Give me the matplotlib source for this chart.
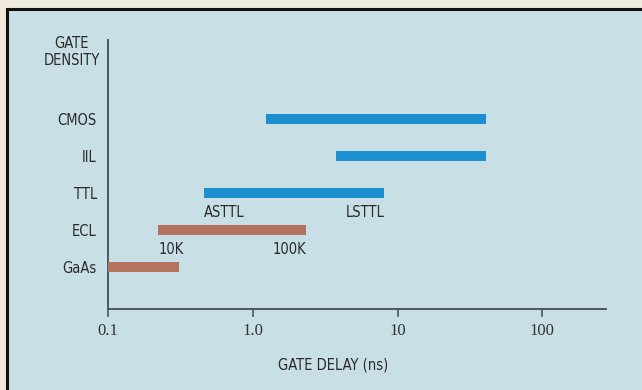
import matplotlib.pyplot as plt
from matplotlib.patches import Rectangle

# data
families = ["GaAs", "ECL", "TTL", "IIL", "CMOS"]
delay_min = [0.10, 0.222, 0.46, 3.74, 1.23]
delay_max = [0.31, 2.32, 8.1, 40.6, 40.6]
bar_kind = ["brown", "brown", "blue", "blue", "blue"]

tick_values = [0.1, 1.0, 10, 100]
tick_labels = ["0.1", "1.0", "10", "100"]

# (family, left label, right label)
end_labels = [("TTL", "ASTTL", "LSTTL"), ("ECL", "10K", "100K")]

BLUE = "#1b8fcf"
BROWN = "#b3735f"
PANEL = "#c8dfe6"
PAPER = "#efe9dc"
INK = "#2b2b2b"
colors = {"blue": BLUE, "brown": BROWN}

W, H = 642, 390
fig = plt.figure(figsize=(W / 100, H / 100), dpi=100, facecolor=PAPER)

# panel with black frame on the left and top
bg = fig.add_axes([0, 0, 1, 1], zorder=-5)
bg.set_axis_off()
bg.add_patch(Rectangle((7 / W, -0.05), 1.1, (H - 9) / H + 0.05,
                       transform=bg.transAxes, facecolor=PANEL,
                       edgecolor="#111111", linewidth=2.2))

narrow = dict(family=["Liberation Sans Narrow", "DejaVu Sans"],
              stretch="condensed")
serif = dict(family=["Liberation Serif", "DejaVu Serif"])

ax = fig.add_axes([108 / W, (H - 309) / H, (606 - 108) / W, (309 - 40) / H],
                  zorder=2)
ax.set_facecolor("none")
ax.set_xscale("log")
ax.set_xlim(0.1, 275)
ax.set_ylim(-0.135, 7.14)

ypos = list(range(1, len(families) + 1))
for y, lo, hi, kind in zip(ypos, delay_min, delay_max, bar_kind):
    ax.barh(y, hi - lo, left=lo, height=0.27, color=colors[kind],
            edgecolor="none", zorder=3)

for fam, left_txt, right_txt in end_labels:
    i = families.index(fam)
    y = ypos[i] - 0.52
    ax.text(delay_min[i], y, left_txt, ha="left", va="center",
            fontsize=10.5, color=INK, **narrow)
    ax.text(delay_max[i], y, right_txt, ha="right", va="center",
            fontsize=10.5, color=INK, **narrow)

ax.set_yticks(ypos)
ax.set_yticklabels(families, fontsize=10.5, color=INK, **narrow)
ax.tick_params(axis="y", length=0, pad=8)

ax.set_xticks(tick_values)
ax.set_xticklabels(tick_labels, fontsize=12, color="#333333", **serif)
ax.minorticks_off()
ax.tick_params(axis="x", direction="out", length=6, width=1.2,
               color="#4a5a5e", pad=4)

for side in ["top", "right"]:
    ax.spines[side].set_visible(False)
for side in ["left", "bottom"]:
    ax.spines[side].set_color("#4a5a5e")
    ax.spines[side].set_linewidth(1.4)

ax.text(-8 / (606 - 108), 1.0 + 4 / 269, "GATE\nDENSITY",
        transform=ax.transAxes, ha="right", va="top",
        multialignment="center", fontsize=10.5, color=INK,
        linespacing=1.15, **narrow)

fig.text(333 / W, 1 - 365 / H, "GATE DELAY (ns)", ha="center", va="center",
         fontsize=10.5, color=INK, zorder=3, **narrow)

fig.savefig("out.png", dpi=100, facecolor=PAPER)
